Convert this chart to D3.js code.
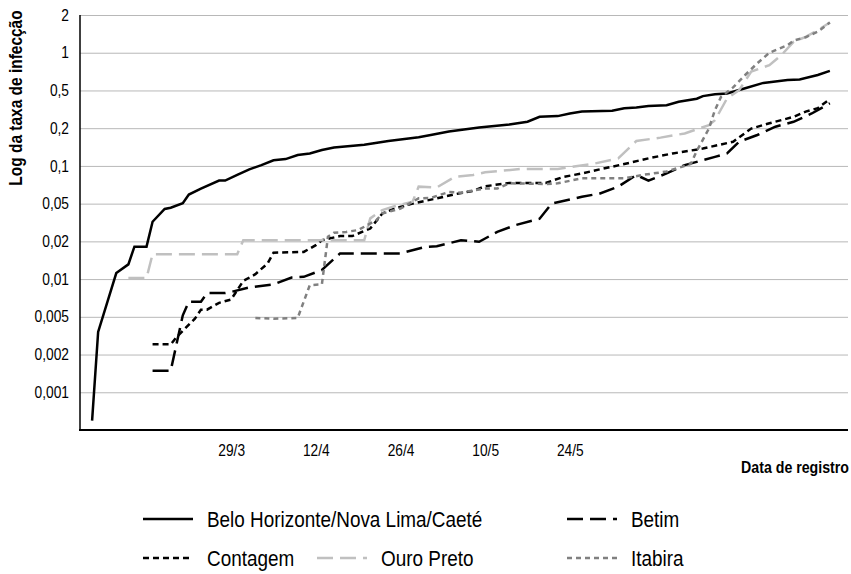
<!DOCTYPE html>
<html>
<head>
<meta charset="utf-8">
<style>
  body { margin: 0; background: #fff; }
  text { font-family: "Liberation Sans", Arial, sans-serif; fill: #000; }
</style>
<script src="https://d3js.org/d3.v7.min.js"></script>
</head>
<body>
<svg width="851" height="574"></svg>
<script>
// log2 of the infection rate
const bhDates = ["6/3","7/3","10/3","12/3","13/3","15/3","16/3","18/3","19/3","21/3","22/3","24/3","27/3","28/3","30/3","1/4","3/4","5/4","7/4","9/4","11/4","13/4","15/4","20/4","24/4","26/4","29/4","1/5","4/5","9/5","14/5","17/5","19/5","22/5","24/5","26/5","31/5","2/6","4/6","6/6","9/6","11/6","14/6","15/6","17/6","19/6","22/6","25/6","29/6","1/7","4/7","6/7"]
const bhValues = [-9.75,-7.4,-5.84,-5.61,-5.14,-5.14,-4.48,-4.14,-4.11,-3.99,-3.76,-3.6,-3.39,-3.39,-3.24,-3.09,-2.98,-2.85,-2.82,-2.71,-2.67,-2.58,-2.51,-2.44,-2.34,-2.3,-2.24,-2.18,-2.09,-1.98,-1.9,-1.83,-1.7,-1.68,-1.61,-1.56,-1.54,-1.47,-1.45,-1.41,-1.39,-1.3,-1.22,-1.15,-1.1,-1.08,-0.94,-0.8,-0.72,-0.71,-0.59,-0.48]

const betimDates = ["16/3","19/3","21/3","22/3","24/3","25/3","28/3","29/3","1/4","5/4","8/4","10/4","13/4","16/4","26/4","30/4","2/5","6/5","9/5","12/5","15/5","19/5","21/5","26/5","29/5","1/6","4/6","6/6","9/6","12/6","17/6","19/6","21/6","24/6","27/6","30/6","3/7","6/7"]
const betimValues = [-8.43,-8.43,-6.96,-6.6,-6.6,-6.37,-6.37,-6.34,-6.22,-6.14,-5.96,-5.94,-5.76,-5.32,-5.32,-5.15,-5.13,-4.97,-5.01,-4.75,-4.57,-4.4,-4.0,-3.82,-3.73,-3.55,-3.24,-3.39,-3.2,-2.98,-2.76,-2.67,-2.36,-2.18,-1.96,-1.83,-1.61,-1.34]

const contagemDates = ["16/3","19/3","20/3","23/3","24/3","25/3","27/3","29/3","31/3","2/4","4/4","5/4","10/4","12/4","13/4","16/4","18/4","21/4","23/4","25/4","28/4","2/5","5/5","8/5","10/5","14/5","20/5","23/5","26/5","29/5","2/6","6/6","10/6","15/6","20/6","23/6","26/6","30/6","2/7","4/7","6/7"]
const contagemValues = [-7.73,-7.73,-7.53,-7.05,-6.81,-6.81,-6.63,-6.54,-6.05,-5.87,-5.59,-5.3,-5.28,-5.1,-4.97,-4.86,-4.86,-4.66,-4.26,-4.13,-4.0,-3.86,-3.75,-3.66,-3.54,-3.45,-3.45,-3.29,-3.2,-3.09,-2.95,-2.8,-2.67,-2.54,-2.36,-2.01,-1.87,-1.7,-1.56,-1.47,-1.23]

const ouroDates = ["12/3","15/3","16/3","30/3","31/3","20/4","21/4","23/4","25/4","28/4","29/4","2/5","5/5","8/5","10/5","16/5","22/5","25/5","28/5","1/6","4/6","8/6","12/6","16/6","17/6","19/6","21/6","23/6","26/6","28/6","30/6","2/7","4/7","6/7"]
const ouroValues = [-5.97,-5.97,-5.34,-5.34,-4.97,-4.97,-4.39,-4.17,-4.07,-3.95,-3.55,-3.57,-3.29,-3.24,-3.17,-3.08,-3.08,-3.01,-2.94,-2.8,-2.34,-2.25,-2.14,-1.92,-1.79,-1.21,-0.99,-0.5,-0.33,-0.06,0.29,0.42,0.6,0.8]

const itabiraDates = ["2/4","5/4","9/4","11/4","13/4","14/4","15/4","17/4","19/4","22/4","23/4","26/4","28/4","29/4","1/5","4/5","6/5","8/5","10/5","12/5","14/5","20/5","22/5","26/5","2/6","5/6","9/6","13/6","14/6","16/6","17/6","18/6","20/6","22/6","24/6","26/6","29/6","30/6","2/7","4/7","6/7"]
const itabiraValues = [-7.03,-7.05,-7.03,-6.16,-6.14,-4.88,-4.77,-4.75,-4.7,-4.44,-4.26,-4.13,-3.95,-3.86,-3.85,-3.69,-3.71,-3.65,-3.6,-3.6,-3.46,-3.48,-3.46,-3.33,-3.33,-3.24,-3.15,-2.95,-2.6,-2.01,-1.52,-1.17,-0.92,-0.59,-0.28,0.0,0.2,0.32,0.41,0.56,0.8]

const seriesNames = ["Belo Horizonte/Nova Lima/Caeté", "Betim", "Contagem", "Ouro Preto", "Itabira"]

const yTickValues = [1, 0, -1, -2, -3, -4, -5, -6, -7, -8, -9]
const yTickLabels = ["2", "1", "0,5", "0,2", "0,1", "0,05", "0,02", "0,01", "0,005", "0,002", "0,001"]
const xTickDates = ["29/3", "12/4", "26/4", "10/5", "24/5"]

const parseDate = d3.timeParse("%d/%m")
const narrow = 0.86   // squeeze text to look like the condensed face of the original

const svg = d3.select("svg")
const plot = { left: 80, right: 848, top: 15, bottom: 430 }

const x = d3.scaleTime()
    .domain([parseDate("4/3"), parseDate("9/7")])
    .range([plot.left, plot.right])
const y = d3.scaleLinear()
    .domain([-10, 1])
    .range([plot.bottom, plot.top])

// gridlines + y labels
const yAxis = svg.append("g")
    .attr("transform", `translate(${plot.left},0)`)
    .call(d3.axisLeft(y)
        .tickValues(yTickValues)
        .tickFormat((d, i) => yTickLabels[i])
        .tickSize(-(plot.right - plot.left))
        .tickPadding(11))
yAxis.select(".domain").remove()
yAxis.selectAll(".tick line").attr("stroke", "#b8b8b8").attr("stroke-width", 1)
yAxis.selectAll(".tick text")
    .style("font-size", "16px")
    .attr("x", -11 / narrow)
    .attr("transform", `scale(${narrow},1)`)

// x labels
const xAxis = svg.append("g")
    .attr("transform", `translate(0,${plot.bottom})`)
    .call(d3.axisBottom(x)
        .tickValues(xTickDates.map(parseDate))
        .tickFormat((d, i) => xTickDates[i])
        .tickSize(0)
        .tickPadding(15))
xAxis.select(".domain").remove()
xAxis.selectAll(".tick text")
    .style("font-size", "16px")
    .attr("transform", `scale(${narrow},1)`)

// axis lines
svg.append("line")
    .attr("x1", plot.left).attr("x2", plot.left)
    .attr("y1", plot.top).attr("y2", plot.bottom)
    .attr("stroke", "#000").attr("stroke-width", 1.5)
svg.append("line")
    .attr("x1", plot.left - 1).attr("x2", plot.right)
    .attr("y1", plot.bottom).attr("y2", plot.bottom)
    .attr("stroke", "#000").attr("stroke-width", 2)

// series
const series = [
    { name: seriesNames[0], dates: bhDates, values: bhValues, color: "#000", dash: null },
    { name: seriesNames[1], dates: betimDates, values: betimValues, color: "#000", dash: "16,7" },
    { name: seriesNames[2], dates: contagemDates, values: contagemValues, color: "#000", dash: "6,4" },
    { name: seriesNames[3], dates: ouroDates, values: ouroValues, color: "#c0c0c0", dash: "16,7" },
    { name: seriesNames[4], dates: itabiraDates, values: itabiraValues, color: "#808080", dash: "5,4" }
]

const line = d3.line()
    .x(d => x(d.date))
    .y(d => y(d.value))

series.forEach(s => {
    const pts = s.dates.map((d, i) => ({ date: parseDate(d), value: s.values[i] }))
    svg.append("path")
        .datum(pts)
        .attr("d", line)
        .attr("fill", "none")
        .attr("stroke", s.color)
        .attr("stroke-width", 2.5)
        .attr("stroke-dasharray", s.dash)
})

// axis titles
svg.append("text")
    .attr("transform", `translate(22,98) rotate(-90) scale(${narrow},1)`)
    .attr("text-anchor", "middle")
    .style("font-size", "18px")
    .style("font-weight", "bold")
    .text("Log da taxa de infecção")

svg.append("text")
    .attr("transform", `translate(849,473) scale(${narrow},1)`)
    .attr("text-anchor", "end")
    .style("font-size", "16.5px")
    .style("font-weight", "bold")
    .text("Data de registro")

// legend
const legendPos = [
    { lx: 143, ly: 519 }, { lx: 567, ly: 519 },
    { lx: 143, ly: 558 }, { lx: 317, ly: 558 }, { lx: 567, ly: 558 }
]
const legend = svg.append("g")
series.forEach((s, i) => {
    const p = legendPos[i]
    const g = legend.append("g").attr("transform", `translate(${p.lx},${p.ly})`)
    g.append("line")
        .attr("x1", 0).attr("x2", 50)
        .attr("stroke", s.color)
        .attr("stroke-width", 2.5)
        .attr("stroke-dasharray", s.dash)
    g.append("text")
        .attr("transform", `translate(64,8) scale(${narrow},1)`)
        .style("font-size", "22px")
        .text(s.name)
})
</script>
</body>
</html>
